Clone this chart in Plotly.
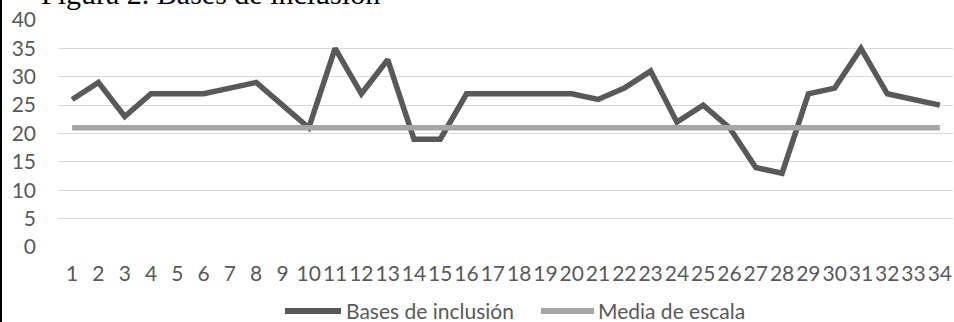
import plotly.graph_objects as go

# Bases de inclusión por participante y media de la escala
participantes = list(range(1, 35))
bases_inclusion = [26, 29, 23, 27, 27, 27, 28, 29, 25, 21,
                   35, 27, 33, 19, 19, 27, 27, 27, 27, 27,
                   26, 28, 31, 22, 25, 21, 14, 13, 27, 28,
                   35, 27, 26, 25]
media_escala = [21] * 34
y_ticks = [0, 5, 10, 15, 20, 25, 30, 35, 40]

series_names = ["Bases de inclusión", "Media de escala"]
series_colors = ["#595959", "#A5A5A5"]

W, H = 954, 322
ML, MR, MT, MB = 59, 1, 20, 75
PW = W - ML - MR
PH = H - MT - MB


def px_x(p):
    return (p - ML) / PW


def px_y(p):
    return (H - MB - p) / PH


font_main = "Lato, 'Open Sans', sans-serif"
gray_text = "#595959"

fig = go.Figure()
for name, vals, col in zip(series_names, [bases_inclusion, media_escala], series_colors):
    fig.add_trace(go.Scatter(
        x=participantes, y=vals, mode="lines", name=name,
        line=dict(color=col, width=5.5),
    ))

# Legend drawn below the axis: long line keys followed by their labels
legend_y = 310
legend_items = [(285, 341, 345), (541, 594, 597)]
shapes = [dict(
    type="line", xref="paper", yref="paper",
    x0=px_x(1), x1=px_x(1), y0=px_y(0), y1=px_y(H),
    line=dict(color="black", width=2),
)]
annotations = [dict(
    text="Figura 2. Bases de inclusión",
    xref="paper", yref="paper",
    x=px_x(39), y=px_y(12), xanchor="left", yanchor="bottom",
    showarrow=False,
    font=dict(family="'Liberation Serif', 'Times New Roman', serif",
              size=30, color="black"),
)]
for (l0, l1, tx), name, col in zip(legend_items, series_names, series_colors):
    shapes.append(dict(
        type="line", xref="paper", yref="paper",
        x0=px_x(l0), x1=px_x(l1), y0=px_y(legend_y + 1), y1=px_y(legend_y + 1),
        line=dict(color=col, width=6),
    ))
    annotations.append(dict(
        text=name, xref="paper", yref="paper",
        x=px_x(tx), y=px_y(legend_y), xanchor="left", yanchor="middle",
        showarrow=False, borderpad=0,
        font=dict(family=font_main, size=21, color=gray_text),
    ))

fig.update_layout(
    width=W, height=H,
    margin=dict(l=ML, r=MR, t=MT, b=MB, autoexpand=False),
    paper_bgcolor="white", plot_bgcolor="white",
    font=dict(family=font_main, size=21, color=gray_text),
    showlegend=False,
    xaxis=dict(
        range=[0.5, 34.5], tickmode="array",
        tickvals=participantes, ticktext=[str(p) for p in participantes],
        showgrid=False, zeroline=False, showline=False, ticks="",
        ticklabelstandoff=12, tickangle=0, automargin=False,
        tickfont=dict(size=21, color=gray_text),
    ),
    yaxis=dict(
        range=[0, 40], tickmode="array", tickvals=y_ticks,
        showgrid=True, gridcolor="#D9D9D9", gridwidth=1.3,
        zeroline=False, showline=False, ticks="", automargin=False,
        ticklabelstandoff=22,
        tickfont=dict(size=21, color=gray_text),
    ),
    annotations=annotations,
    shapes=shapes,
)

fig.write_html("out.html")
